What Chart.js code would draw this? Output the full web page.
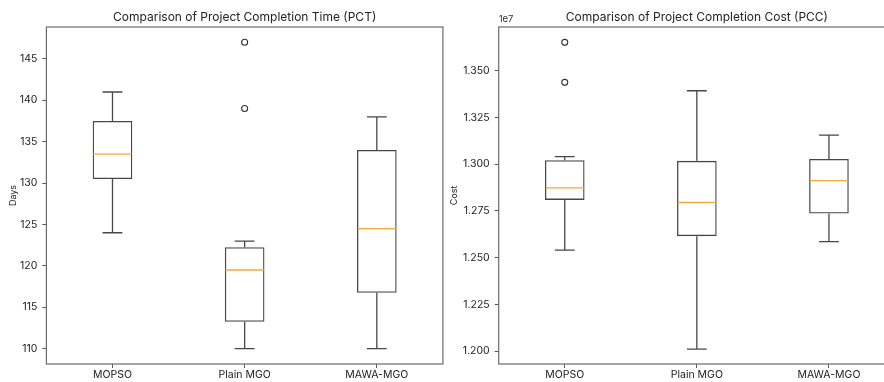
<!DOCTYPE html>
<html>
<head>
<meta charset="utf-8">
<script src="https://cdn.jsdelivr.net/npm/chart.js@4/dist/chart.umd.min.js"></script>
<style>
  html, body { margin: 0; padding: 0; background: #fff; width: 884px; height: 382px; overflow: hidden; position: relative; }
  canvas { position: absolute; top: 0; }
  #c1 { left: 0; }
  #c2 { left: 444px; }
</style>
</head>
<body>
<canvas id="c1" width="448" height="382"></canvas>
<canvas id="c2" width="460" height="382"></canvas>
<script>
// ---- data ----
const categories = ['MOPSO', 'Plain MGO', 'MAWA-MGO'];

// Project Completion Time (days)
const pctWhiskerLow  = [124, 110, 110];
const pctQ1          = [130.5, 113.25, 116.75];
const pctMedian      = [133.5, 119.5, 124.5];
const pctQ3          = [137.5, 122.25, 134];
const pctWhiskerHigh = [141, 123, 138];
const pctOutliers    = [[], [147, 139], []];
const pctTicks       = [110, 115, 120, 125, 130, 135, 140, 145];

// Project Completion Cost
const pccWhiskerLow  = [12540000, 12011000, 12586000];
const pccQ1          = [12809000, 12615000, 12736000];
const pccMedian      = [12873000, 12795000, 12912000];
const pccQ3          = [13021000, 13018000, 13028000];
const pccWhiskerHigh = [13041000, 13393000, 13155000];
const pccOutliers    = [[13652000, 13438000], [], []];
const pccTicks       = [12000000, 12250000, 12500000, 12750000, 13000000, 13250000, 13500000];

const FONT = 'Inter, "Open Sans", sans-serif';
const BOX_COLOR = '#474747';
const MEDIAN_COLOR = '#f7a93b';
const FRAME_COLOR = '#6b6b6b';

// whiskers, caps, medians drawn through the chart's own scales
const boxExtras = {
  id: 'boxExtras',
  afterDatasetsDraw(chart) {
    const st = chart.options.plugins.boxExtras;
    const xs = chart.scales.x, ys = chart.scales.y;
    const meta = chart.getDatasetMeta(0);
    const ctx = chart.ctx;
    ctx.save();
    categories.forEach((c, i) => {
      const x = xs.getPixelForValue(i);
      const bw = meta.data[i].width;
      const cap = bw / 4;
      const yLo = ys.getPixelForValue(st.low[i]);
      const yQ1 = ys.getPixelForValue(st.q1[i]);
      const yQ3 = ys.getPixelForValue(st.q3[i]);
      const yHi = ys.getPixelForValue(st.high[i]);
      const yMed = ys.getPixelForValue(st.median[i]);
      ctx.strokeStyle = BOX_COLOR;
      ctx.lineWidth = 1.3;
      ctx.beginPath();
      ctx.moveTo(x, yQ1); ctx.lineTo(x, yLo);
      ctx.moveTo(x, yQ3); ctx.lineTo(x, yHi);
      ctx.moveTo(x - cap, yLo); ctx.lineTo(x + cap, yLo);
      ctx.moveTo(x - cap, yHi); ctx.lineTo(x + cap, yHi);
      ctx.stroke();
      ctx.strokeStyle = MEDIAN_COLOR;
      ctx.lineWidth = 1.3;
      ctx.beginPath();
      ctx.moveTo(x - bw / 2 + 0.7, yMed); ctx.lineTo(x + bw / 2 - 0.7, yMed);
      ctx.stroke();
    });
    ctx.restore();
  }
};

const frame = {
  id: 'frame',
  afterDraw(chart) {
    const a = chart.chartArea, ctx = chart.ctx;
    ctx.save();
    ctx.strokeStyle = FRAME_COLOR;
    ctx.lineWidth = 1.2;
    ctx.strokeRect(a.left, a.top, a.right - a.left, a.bottom - a.top);
    const off = chart.options.plugins.frame.offsetText;
    if (off) {
      ctx.fillStyle = '#333';
      ctx.font = '9.5px ' + FONT;
      ctx.textAlign = 'left';
      ctx.textBaseline = 'bottom';
      ctx.fillText(off, a.left, a.top - 3);
    }
    ctx.restore();
  }
};

function makeChart(id, cfg) {
  const outlierData = [];
  cfg.outliers.forEach((arr, i) => arr.forEach(v => outlierData.push({ x: categories[i], y: v })));
  return new Chart(document.getElementById(id), {
    type: 'bar',
    data: {
      labels: categories,
      datasets: [
        {
          type: 'bar',
          data: categories.map((c, i) => [cfg.q1[i], cfg.q3[i]]),
          backgroundColor: 'rgba(0,0,0,0)',
          borderColor: BOX_COLOR,
          borderWidth: 1.3,
          borderSkipped: false,
          barPercentage: 0.3,
          categoryPercentage: 1.0
        },
        {
          type: 'line',
          data: outlierData,
          showLine: false,
          pointStyle: 'circle',
          pointRadius: 3,
          pointBorderWidth: 1.1,
          pointBorderColor: '#333',
          pointBackgroundColor: '#fff'
        }
      ]
    },
    options: {
      responsive: false,
      animation: false,
      devicePixelRatio: 1,
      layout: { padding: { left: 0, right: cfg.padRight, top: 0, bottom: 0 } },
      plugins: {
        legend: { display: false },
        tooltip: { enabled: false },
        title: {
          display: true,
          text: cfg.title,
          fullSize: false,
          color: '#222',
          font: { family: FONT, size: 12, weight: 'normal' },
          padding: { top: 10.5, bottom: 2.1 }
        },
        boxExtras: { low: cfg.low, q1: cfg.q1, median: cfg.median, q3: cfg.q3, high: cfg.high },
        frame: { offsetText: cfg.offsetText }
      },
      scales: {
        x: {
          type: 'category',
          offset: true,
          afterFit(s) { s.height = 18; },
          grid: { display: true, drawOnChartArea: false, drawTicks: true, tickLength: 4, tickColor: '#555', offset: false },
          border: { display: false },
          ticks: { color: '#222', padding: 1, font: { family: FONT, size: 10.5 } }
        },
        y: {
          type: 'linear',
          min: cfg.yMin,
          max: cfg.yMax,
          afterFit(s) { s.width = cfg.yWidth; },
          afterBuildTicks(s) { s.ticks = cfg.ticks.map(v => ({ value: v })); },
          grid: { display: true, drawOnChartArea: false, drawTicks: true, tickLength: 4, tickColor: '#555' },
          border: { display: false },
          title: {
            display: true,
            text: cfg.yTitle,
            color: '#222',
            font: { family: FONT, size: 9 },
            padding: { top: cfg.yTitlePad, bottom: 0 }
          },
          ticks: {
            color: '#222',
            padding: 5,
            font: { family: FONT, size: 10.5 },
            callback: cfg.tickFmt
          }
        }
      }
    },
    plugins: [boxExtras, frame]
  });
}

makeChart('c1', {
  title: 'Comparison of Project Completion Time (PCT)',
  yTitle: 'Days',
  low: pctWhiskerLow, q1: pctQ1, median: pctMedian, q3: pctQ3, high: pctWhiskerHigh,
  outliers: pctOutliers,
  ticks: pctTicks,
  yMin: 108.15, yMax: 148.85,
  yWidth: 46.4,
  yTitlePad: 8,
  padRight: 4.4,
  offsetText: '',
  tickFmt: v => String(v)
});

makeChart('c2', {
  title: 'Comparison of Project Completion Cost (PCC)',
  yTitle: 'Cost',
  low: pccWhiskerLow, q1: pccQ1, median: pccMedian, q3: pccQ3, high: pccWhiskerHigh,
  outliers: pccOutliers,
  ticks: pccTicks,
  yMin: 11931000, yMax: 13734000,
  yWidth: 54.7,
  yTitlePad: 5,
  padRight: 9,
  offsetText: '1e7',
  tickFmt: v => (v / 1e7).toFixed(3)
});
</script>
</body>
</html>
